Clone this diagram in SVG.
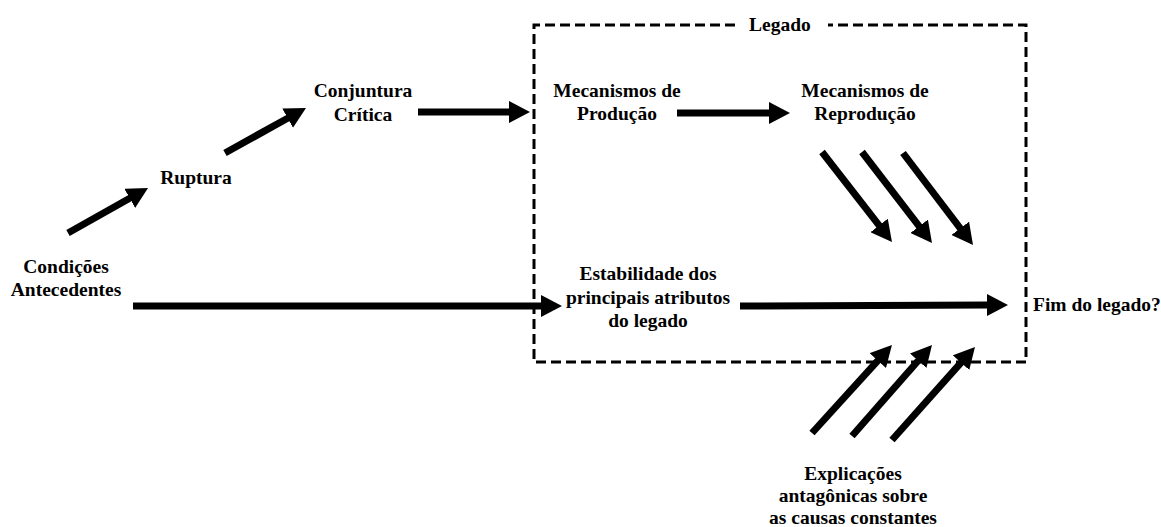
<svg xmlns="http://www.w3.org/2000/svg" width="1161" height="527" viewBox="0 0 1161 527">
<style>
.t{font-family:'Liberation Serif','Times New Roman','DejaVu Serif',serif;font-weight:700;font-size:19.5px;fill:#000;text-anchor:middle}
.a{stroke:#000;stroke-width:7;fill:none;marker-end:url(#h)}
.box{stroke:#000;stroke-width:3;fill:none;stroke-dasharray:10 5}
</style>
<defs>
<marker id="h" markerUnits="userSpaceOnUse" viewBox="0 -11 22 22" markerWidth="22" markerHeight="22" refX="1" refY="0" orient="auto">
<path d="M0,-11 L21,0 L0,11 z" fill="#000"/>
</marker>
</defs>
<rect width="1161" height="527" fill="#fff"/>
<g id="legado-box">
<path class="box" d="M735,25 L534,25 L534,362 L1026,362 L1026,25 L828,25"/>
<text class="t" x="780" y="31">Legado</text>
</g>
<g id="connectors">
<line class="a" x1="68" y1="233" x2="130.6" y2="197.8"/>
<line class="a" x1="225" y1="153" x2="288.5" y2="117.7"/>
<line class="a" x1="418" y1="112" x2="510" y2="112"/>
<line class="a" x1="677" y1="113" x2="770" y2="113"/>
<line class="a" x1="133" y1="306" x2="542" y2="306"/>
<line class="a" x1="740" y1="306" x2="988" y2="305"/>
<line class="a" x1="822" y1="152" x2="879.7" y2="226.2"/>
<line class="a" x1="862" y1="152" x2="919.8" y2="227.1"/>
<line class="a" x1="903" y1="153" x2="960.9" y2="229.1"/>
<line class="a" x1="812" y1="433" x2="878.5" y2="359.8"/>
<line class="a" x1="852" y1="436" x2="918.8" y2="360"/>
<line class="a" x1="892" y1="440" x2="961.7" y2="361.9"/>
</g>
<g id="condicoes"><text class="t" x="66" y="273">Condições</text><text class="t" x="66" y="296">Antecedentes</text></g>
<g id="ruptura"><text class="t" x="196" y="184">Ruptura</text></g>
<g id="conjuntura"><text class="t" x="363" y="97">Conjuntura</text><text class="t" x="363" y="121">Crítica</text></g>
<g id="producao"><text class="t" x="617" y="97">Mecanismos de</text><text class="t" x="617" y="120">Produção</text></g>
<g id="reproducao"><text class="t" x="865" y="97">Mecanismos de</text><text class="t" x="865" y="120">Reprodução</text></g>
<g id="estabilidade"><text class="t" x="648" y="280">Estabilidade dos</text><text class="t" x="648" y="304">principais atributos</text><text class="t" x="648" y="327">do legado</text></g>
<g id="fim"><text class="t" x="1033" y="311" style="text-anchor:start">Fim do legado?</text></g>
<g id="explicacoes"><text class="t" x="853" y="480">Explicações</text><text class="t" x="853" y="502">antagônicas sobre</text><text class="t" x="853" y="524">as causas constantes</text></g>
</svg>
